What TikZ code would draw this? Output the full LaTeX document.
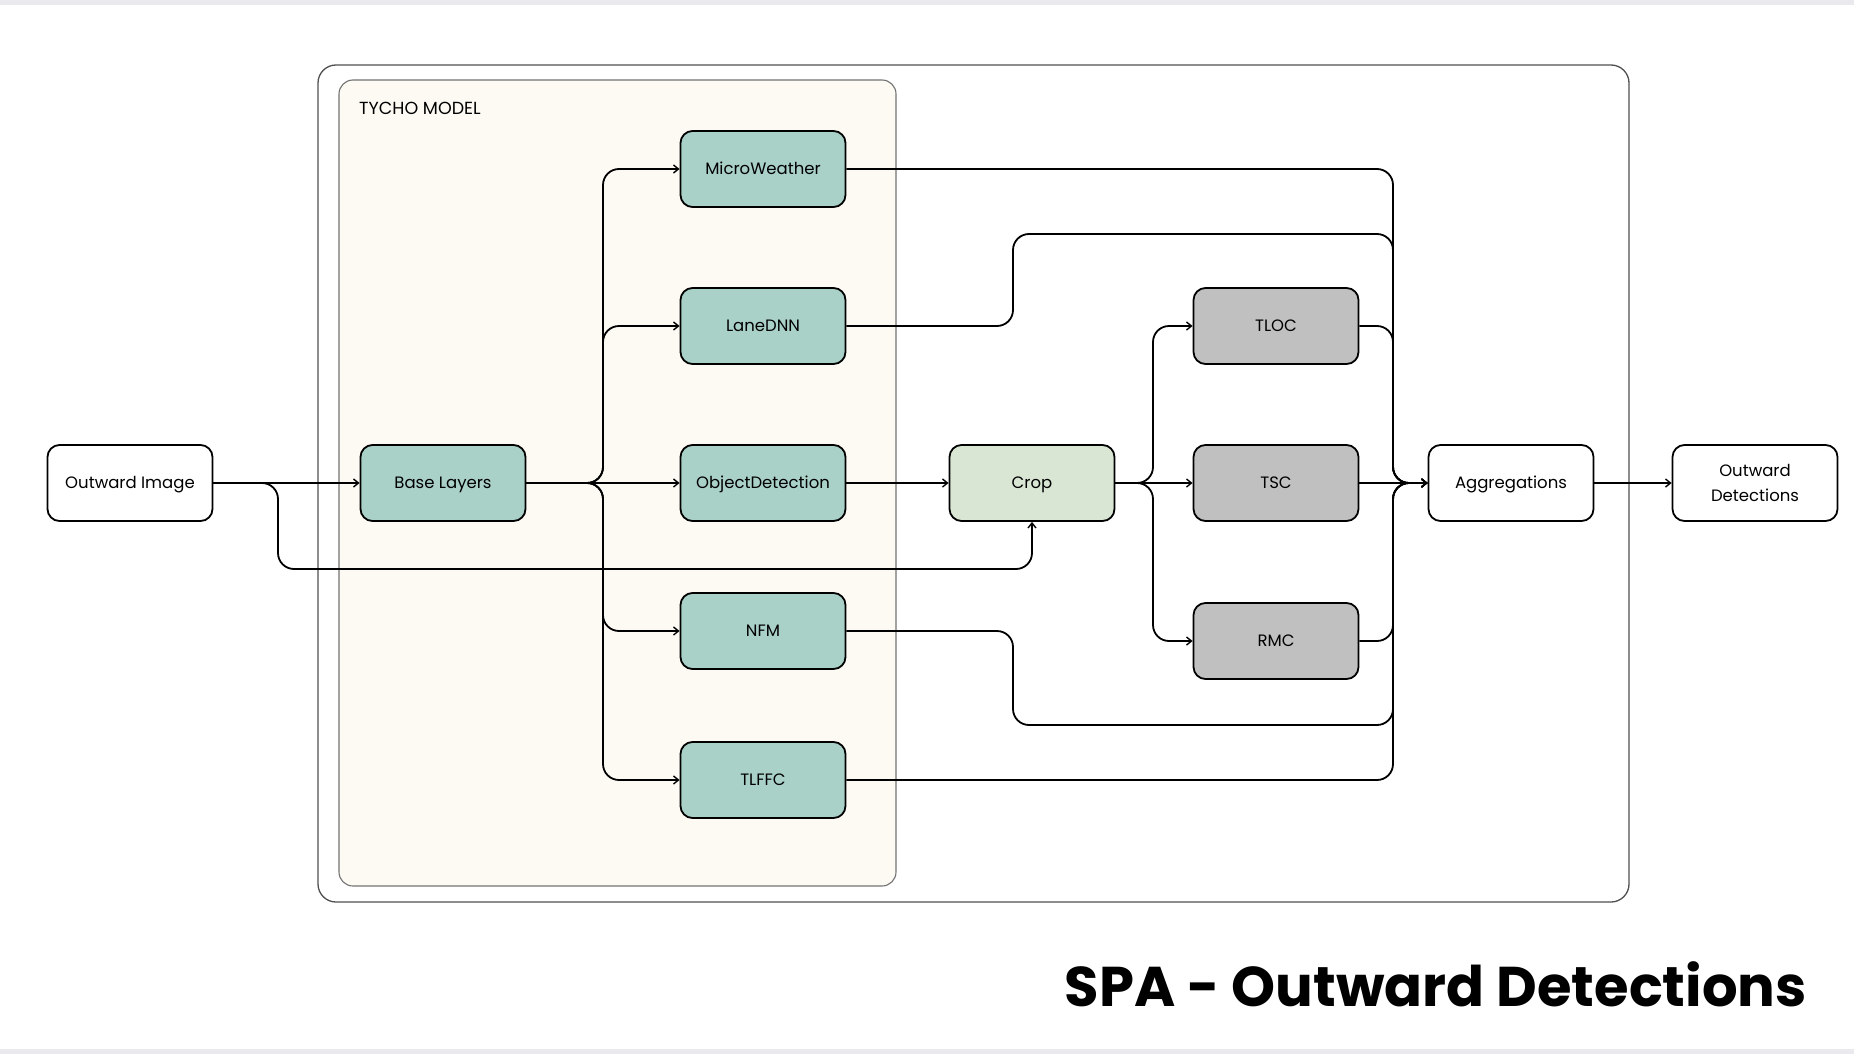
\documentclass[tikz,border=0pt]{standalone}
\usepackage{fontspec}
\setmainfont{Poppins}
\usetikzlibrary{arrows.meta,calc}
\definecolor{tealfill}{HTML}{A9D1C8}
\definecolor{cropfill}{HTML}{D9E6D4}
\definecolor{grayfill}{HTML}{C0C0C0}
\definecolor{creamfill}{HTML}{FCFAF3}
\definecolor{bandgray}{HTML}{E9E9EE}
\definecolor{framegray}{HTML}{505050}
\begin{document}
\begin{tikzpicture}[x=1pt,y=-1pt,
  boxbase/.style={draw=black, line width=1.8pt, rounded corners=12pt, minimum width=165pt, minimum height=76pt, align=center, font=\fontsize{16.5}{21}\selectfont, inner sep=2pt},
  box/.style={boxbase, text height=11.5pt, text depth=0pt},
  tealbox/.style={box, fill=tealfill},
  graybox/.style={box, fill=grayfill},
  whitebox/.style={box, fill=white},
  conn/.style={draw=black, line width=1.8pt, rounded corners=16pt, -{Straight Barb[length=5pt,width=8pt,line width=1.4pt]}},
]
\useasboundingbox (0,0) rectangle (1854,1054);
\fill[white] (0,0) rectangle (1854,1054);
\fill[bandgray] (0,0) rectangle (1854,5);
\fill[bandgray] (0,1049) rectangle (1854,1054);

% containers
\draw[framegray, line width=1.3pt, rounded corners=18pt] (318,65) rectangle (1629,902);
\draw[framegray!80, line width=1.1pt, fill=creamfill, rounded corners=14pt] (339,80) rectangle (896,886);
\node[anchor=west, font=\fontsize{17.5}{20}\selectfont, inner sep=0pt] (tycho) at (359,108) {TYCHO MODEL};

% nodes
\node[whitebox] (oi) at (130,483) {Outward Image};
\node[tealbox] (bl) at (443,483) {Base Layers};
\node[tealbox] (mw) at (763,169) {MicroWeather};
\node[tealbox] (ld) at (763,326) {LaneDNN};
\node[tealbox] (od) at (763,483) {ObjectDetection};
\node[tealbox] (nfm) at (763,631) {NFM};
\node[tealbox] (tlffc) at (763,780) {TLFFC};
\node[box, fill=cropfill] (crop) at (1032,483) {Crop};
\node[graybox] (tloc) at (1276,326) {TLOC};
\node[graybox] (tsc) at (1276,483) {TSC};
\node[graybox] (rmc) at (1276,641) {RMC};
\node[whitebox] (agg) at (1511,483) {Aggregations};
\node[boxbase, fill=white] (outdet) at (1755,483) {Outward\\[4pt]Detections};

\coordinate (trunkA) at (603,483);
\coordinate (trunkC) at (1153,483);
\coordinate (merge) at (1393,483);

% input
\draw[conn] (oi.east) -- (bl.west);
\draw[conn] (oi.east) -- (278,483) -- (278,569) -| (crop.south);

% base layers fan-out
\draw[conn] (bl.east) -- (trunkA) |- (mw.west);
\draw[conn] (bl.east) -- (trunkA) |- (ld.west);
\draw[conn] (bl.east) -- (od.west);
\draw[conn] (bl.east) -- (trunkA) |- (nfm.west);
\draw[conn] (bl.east) -- (trunkA) |- (tlffc.west);

% crop
\draw[conn] (od.east) -- (crop.west);
\draw[conn] (crop.east) -- (trunkC) |- (tloc.west);
\draw[conn] (crop.east) -- (tsc.west);
\draw[conn] (crop.east) -- (trunkC) |- (rmc.west);

% to aggregations
\draw[conn] (mw.east) -| (merge) -- (agg.west);
\draw[conn] (ld.east) -| (1013,234) -| (merge) -- (agg.west);
\draw[conn] (tloc.east) -| (merge) -- (agg.west);
\draw[conn] (tsc.east) -- (agg.west);
\draw[conn] (rmc.east) -| (merge) -- (agg.west);
\draw[conn] (nfm.east) -| (1013,725) -| (merge) -- (agg.west);
\draw[conn] (tlffc.east) -| (merge) -- (agg.west);

\draw[conn] (agg.east) -- (outdet.west);

% title
\node[anchor=base east, inner sep=0pt, font=\fontsize{56}{60}\selectfont\bfseries] (title) at (1807,1006) {SPA - Outward Detections};
\end{tikzpicture}
\end{document}
